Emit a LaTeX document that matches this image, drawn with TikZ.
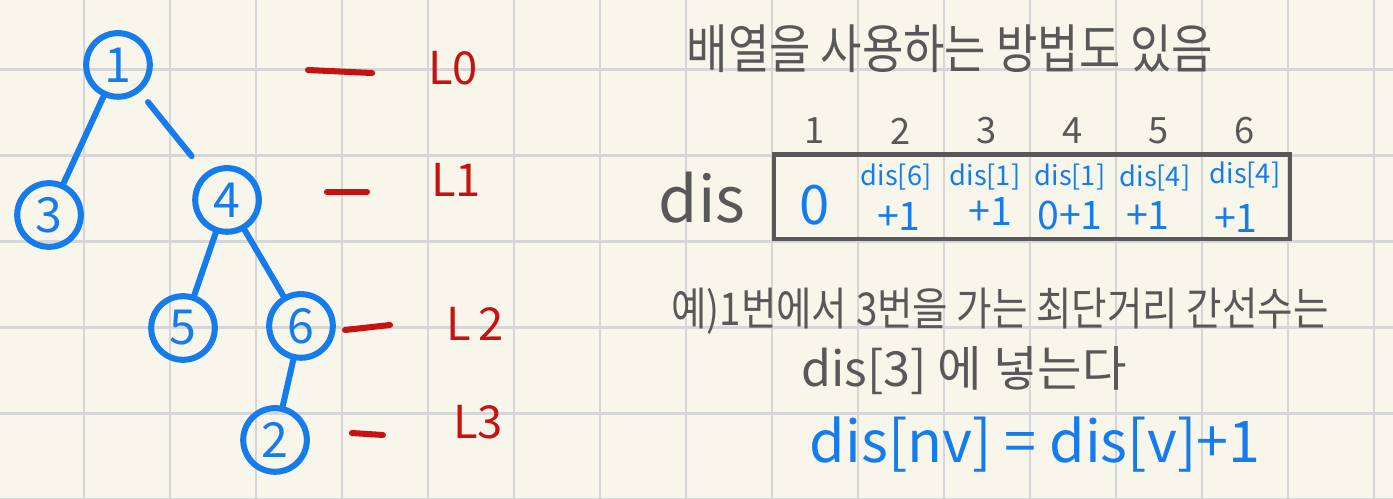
\documentclass[tikz,border=0pt]{standalone}
\usepackage{fontspec}
\setmainfont{Noto Sans CJK KR}
\newfontfamily\handkr{Noto Sans CJK KR}[FakeStretch=0.85]
\definecolor{paper}{RGB}{248,246,235}
\definecolor{gridgray}{RGB}{214,214,214}
\definecolor{penblue}{RGB}{22,124,235}
\definecolor{penred}{RGB}{200,18,18}
\definecolor{pengray}{RGB}{88,88,88}
\tikzset{
	vertex/.style={circle,draw=penblue,line width=2pt,text=penblue,minimum size=0.74cm,inner sep=0pt,font=\fontsize{16}{16}\selectfont},
	treeedge/.style={penblue,line width=2pt,line cap=round},
	levelmark/.style={penred,line width=2pt,line cap=round},
	levelname/.style={text=penred,font=\fontsize{15}{15}\selectfont},
	note/.style={text=pengray,inner sep=0pt,font=\handkr\fontsize{15}{15}\selectfont},
	idx/.style={text=pengray,font=\fontsize{12}{12}\selectfont},
	cellup/.style={text=penblue,inner sep=0pt,font=\fontsize{9}{9}\selectfont},
	celldown/.style={text=penblue,inner sep=0pt,font=\fontsize{13}{13}\selectfont},
}
\begin{document}
\begin{tikzpicture}
\def\PAPER{paper}
\def\GRIDCOLOR{gridgray}
\def\BOXCOLOR{pengray}
	\useasboundingbox (0,0) rectangle (16.198,5.802);
	\fill[\PAPER] (0,0) rectangle (16.198,5.802);
	\begin{scope}
	\clip (0,0) rectangle (16.198,5.802);
	\draw[step=1.0,\GRIDCOLOR,line width=0.9pt,shift={(-0.023,-0.01)}] (0,0) grid (17,7);
	\end{scope}

	% tree
	\node[vertex] (n1) at (1.372,5.047) {1};
	\node[vertex] (n3) at (0.570,3.302) {3};
	\node[vertex] (n4) at (2.640,3.477) {4};
	\node[vertex] (n5) at (2.128,1.988) {5};
	\node[vertex] (n6) at (3.500,2.012) {6};
	\node[vertex] (n2) at (3.198,0.686) {2};
	\draw[treeedge] (n1) -- (n3);
	\draw[treeedge,shorten <=0.15cm,shorten >=0.25cm] (n1) -- (n4);
	\draw[treeedge] (n4) -- (n5);
	\draw[treeedge] (n4) -- (n6);
	\draw[treeedge] (n6) -- (n2);

	% levels
	\coordinate (d0a) at (3.581,4.988);
	\coordinate (d0b) at (4.326,4.953);
	\coordinate (d1a) at (3.802,3.570);
	\coordinate (d1b) at (4.267,3.570);
	\coordinate (d2a) at (4.012,1.965);
	\coordinate (d2b) at (4.535,2.023);
	\coordinate (d3a) at (4.093,0.767);
	\coordinate (d3b) at (4.453,0.744);
	\draw[levelmark] (d0a) -- (d0b);
	\draw[levelmark] (d1a) -- (d1b);
	\draw[levelmark] (d2a) -- (d2b);
	\draw[levelmark] (d3a) -- (d3b);
	\node[levelname] (l0) at (5.267,5.012) {L0};
	\node[levelname] (l1) at (5.302,3.709) {L1};
	\node[levelname] (l2) at (5.523,2.035) {L\,2};
	\node[levelname] (l3) at (5.558,0.895) {L3};

	% array
	\node[note,font=\handkr\fontsize{17.5}{17.5}\selectfont] (title) at (11.047,5.233) {배열을 사용하는 방법도 있음};
	\foreach \i in {1,...,6}
		\node[idx] (i\i) at (8.477+\i,4.279) {\i};
	\node[draw=\BOXCOLOR,line width=1.4pt,minimum width=6cm,minimum height=0.98cm,inner sep=0pt,anchor=south west] (arr) at (8.977,3.0) {};
	\node[text=pengray,font=\fontsize{21}{21}\selectfont] (dis) at (8.163,3.5) {dis};
	\node[text=penblue,font=\fontsize{18}{18}\selectfont] (c1) at (9.477,3.419) {0};
	\node[cellup] (u2) at (10.419,3.744) {dis[6]};
	\node[cellup] (u3) at (11.453,3.744) {dis[1]};
	\node[cellup] (u4) at (12.442,3.744) {dis[1]};
	\node[cellup] (u5) at (13.430,3.733) {dis[4]};
	\node[cellup] (u6) at (14.477,3.767) {dis[4]};
	\node[celldown] (v2) at (10.453,3.279) {+1};
	\node[celldown] (v3) at (11.512,3.337) {+1};
	\node[celldown] (v4) at (12.442,3.302) {0+1};
	\node[celldown] (v5) at (13.349,3.291) {+1};
	\node[celldown] (v6) at (14.372,3.267) {+1};

	% example
	\node[note] (ex1) at (11.628,2.186) {예)1번에서 3번을 가는 최단거리 간선수는};
	\node[note,font=\fontsize{16}{16}\selectfont] (ex2) at (11.209,1.488) {dis[3]\ 에\ 넣는다};
	\node[note,text=penblue,font=\fontsize{19}{19}\selectfont] (rule) at (12.035,0.628) {dis[nv] = dis[v]+1};
\end{tikzpicture}
\end{document}
